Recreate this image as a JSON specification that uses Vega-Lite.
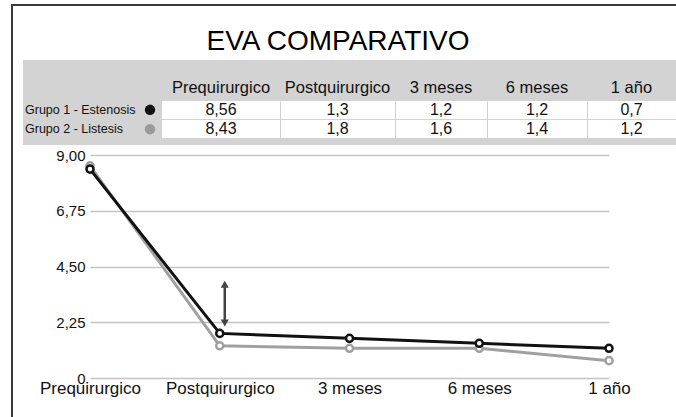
{
  "$schema": "https://vega.github.io/schema/vega-lite/v6.json",
  "width": 666,
  "height": 414,
  "autosize": {"type": "none"},
  "padding": {"left": 12, "top": 5, "right": -2, "bottom": -2},
  "background": "white",
  "title": {
    "text": "EVA COMPARATIVO",
    "font": "Liberation Sans",
    "fontSize": 28,
    "fontWeight": "normal",
    "color": "#000000",
    "anchor": "middle",
    "frame": "group",
    "baseline": "alphabetic",
    "offset": -73,
    "dx": -7
  },
  "config": {
    "locale": {"number": {"decimal": ",", "thousands": ".", "grouping": [3], "currency": ["", " €"]}},
    "view": {"stroke": "#3a3a3a", "strokeWidth": 2},
    "font": "Liberation Sans",
    "text": {"font": "Liberation Sans", "color": "#111111"}
  },
  "datasets": {
    "eva": [
      {"grupo": "Grupo 1 - Estenosis", "periodo": "Prequirurgico", "col": 1, "valor": 8.56},
      {"grupo": "Grupo 1 - Estenosis", "periodo": "Postquirurgico", "col": 2, "valor": 1.3},
      {"grupo": "Grupo 1 - Estenosis", "periodo": "3 meses", "col": 3, "valor": 1.2},
      {"grupo": "Grupo 1 - Estenosis", "periodo": "6 meses", "col": 4, "valor": 1.2},
      {"grupo": "Grupo 1 - Estenosis", "periodo": "1 año", "col": 5, "valor": 0.7},
      {"grupo": "Grupo 2 - Listesis", "periodo": "Prequirurgico", "col": 1, "valor": 8.43},
      {"grupo": "Grupo 2 - Listesis", "periodo": "Postquirurgico", "col": 2, "valor": 1.8},
      {"grupo": "Grupo 2 - Listesis", "periodo": "3 meses", "col": 3, "valor": 1.6},
      {"grupo": "Grupo 2 - Listesis", "periodo": "6 meses", "col": 4, "valor": 1.4},
      {"grupo": "Grupo 2 - Listesis", "periodo": "1 año", "col": 5, "valor": 1.2}
    ],
    "flecha": [
      {"periodo": "Postquirurgico", "inicio": 2.22, "fin": 3.78}
    ]
  },
  "layer": [
    {
      "data": {"values": [{}]},
      "mark": {"type": "rect", "color": "#d3d3d3"},
      "encoding": {
        "x": {"datum": 0, "type": "quantitative", "scale": {"domain": [0, 1], "range": [11, 666], "zero": false, "nice": false}, "axis": null},
        "x2": {"datum": 1},
        "y": {"datum": 0, "type": "quantitative", "scale": {"domain": [0, 1], "range": [55, 140], "zero": false, "nice": false}, "axis": null},
        "y2": {"datum": 1}
      }
    },
    {
      "data": {"name": "eva"},
      "encoding": {
        "y": {
          "field": "grupo",
          "type": "nominal",
          "scale": {"domain": ["Grupo 1 - Estenosis", "Grupo 2 - Listesis"], "range": [96, 133], "paddingInner": 0.08, "paddingOuter": 0},
          "axis": null
        }
      },
      "layer": [
        {
          "mark": {"type": "rect", "color": "white"},
          "encoding": {
            "x": {
              "datum": 0.5,
              "type": "quantitative",
              "scale": {"type": "linear", "domain": [0, 0.5, 1.5, 2.5, 3.5, 4.5, 5.5], "range": [11, 150, 268, 383, 475, 575, 664], "zero": false, "nice": false},
              "axis": {"orient": "top", "values": [1.5, 2.5, 3.5, 4.5], "grid": true, "gridColor": "#d0d0d0", "gridWidth": 1, "labels": false, "ticks": false, "domain": false, "zindex": 1, "title": null}
            },
            "x2": {"datum": 5.5}
          }
        },
        {
          "mark": {"type": "text", "fontSize": 16, "color": "#111111"},
          "encoding": {
            "x": {"field": "col", "type": "quantitative"},
            "text": {"field": "valor", "type": "quantitative", "format": "~f"}
          }
        },
        {
          "transform": [{"filter": "datum.grupo === 'Grupo 1 - Estenosis'"}],
          "mark": {"type": "text", "fontSize": 16.5, "dy": -22, "color": "#111111"},
          "encoding": {
            "x": {"field": "col", "type": "quantitative"},
            "text": {"field": "periodo", "type": "nominal"}
          }
        },
        {
          "transform": [{"filter": "datum.periodo === 'Prequirurgico'"}],
          "mark": {"type": "text", "fontSize": 12.5, "align": "left", "dx": 2, "color": "#111111"},
          "encoding": {
            "x": {"datum": 0, "type": "quantitative"},
            "text": {"field": "grupo", "type": "nominal"}
          }
        },
        {
          "transform": [{"filter": "datum.periodo === 'Prequirurgico'"}],
          "mark": {"type": "point", "filled": true, "size": 110, "opacity": 1, "xOffset": -12},
          "encoding": {
            "x": {"datum": 0.5, "type": "quantitative"},
            "color": {"field": "grupo", "type": "nominal", "scale": {"domain": ["Grupo 1 - Estenosis", "Grupo 2 - Listesis"], "range": ["#111111", "#9a9a9a"]}, "legend": null}
          }
        }
      ]
    },
    {
      "data": {"name": "eva"},
      "encoding": {
        "x": {
          "field": "periodo",
          "type": "nominal",
          "sort": ["Prequirurgico", "Postquirurgico", "3 meses", "6 meses", "1 año"],
          "scale": {"type": "point", "domain": ["Prequirurgico", "Postquirurgico", "3 meses", "6 meses", "1 año"], "range": [78, 597], "padding": 0},
          "axis": {"orient": "bottom", "offset": -41, "domain": false, "ticks": false, "grid": false, "labelFont": "Liberation Sans", "labelFontSize": 17, "labelPadding": 2, "labelColor": "#111111", "labelAngle": 0, "title": null}
        },
        "y": {
          "field": "valor",
          "type": "quantitative",
          "scale": {"domain": [0, 9], "range": [373, 150], "nice": false, "zero": true},
          "axis": {"orient": "left", "offset": -76, "values": [0, 2.25, 4.5, 6.75, 9], "labelExpr": "datum.value == 0 ? '0' : format(datum.value, '.2f')", "domain": false, "ticks": false, "grid": true, "gridColor": "#c4c4c4", "gridWidth": 1.5, "labelFont": "Liberation Sans", "labelFontSize": 15, "labelPadding": 3, "labelColor": "#111111", "title": null}
        }
      },
      "layer": [
        {
          "transform": [{"filter": "datum.grupo === 'Grupo 1 - Estenosis'"}],
          "mark": {"type": "line", "color": "#a0a0a0", "strokeWidth": 3}
        },
        {
          "transform": [{"filter": "datum.grupo === 'Grupo 1 - Estenosis'"}],
          "mark": {"type": "point", "filled": true, "fill": "white", "stroke": "#a0a0a0", "strokeWidth": 2.5, "size": 50, "opacity": 1}
        },
        {
          "transform": [{"filter": "datum.grupo === 'Grupo 2 - Listesis'"}],
          "mark": {"type": "line", "color": "#111111", "strokeWidth": 3}
        },
        {
          "transform": [{"filter": "datum.grupo === 'Grupo 2 - Listesis'"}],
          "mark": {"type": "point", "filled": true, "fill": "white", "stroke": "#111111", "strokeWidth": 2.5, "size": 50, "opacity": 1}
        },
        {
          "data": {"name": "flecha"},
          "mark": {"type": "rule", "color": "#444444", "strokeWidth": 2.5, "xOffset": 5},
          "encoding": {
            "x": {"field": "periodo", "type": "nominal"},
            "y": {"field": "inicio", "type": "quantitative"},
            "y2": {"field": "fin"}
          }
        },
        {
          "data": {"name": "flecha"},
          "mark": {"type": "point", "shape": "triangle-up", "filled": true, "color": "#444444", "size": 65, "opacity": 1, "xOffset": 5},
          "encoding": {
            "x": {"field": "periodo", "type": "nominal"},
            "y": {"field": "fin", "type": "quantitative"}
          }
        },
        {
          "data": {"name": "flecha"},
          "mark": {"type": "point", "shape": "triangle-down", "filled": true, "color": "#444444", "size": 65, "opacity": 1, "xOffset": 5},
          "encoding": {
            "x": {"field": "periodo", "type": "nominal"},
            "y": {"field": "inicio", "type": "quantitative"}
          }
        }
      ]
    }
  ],
  "resolve": {"scale": {"x": "independent", "y": "independent", "color": "independent"}}
}
